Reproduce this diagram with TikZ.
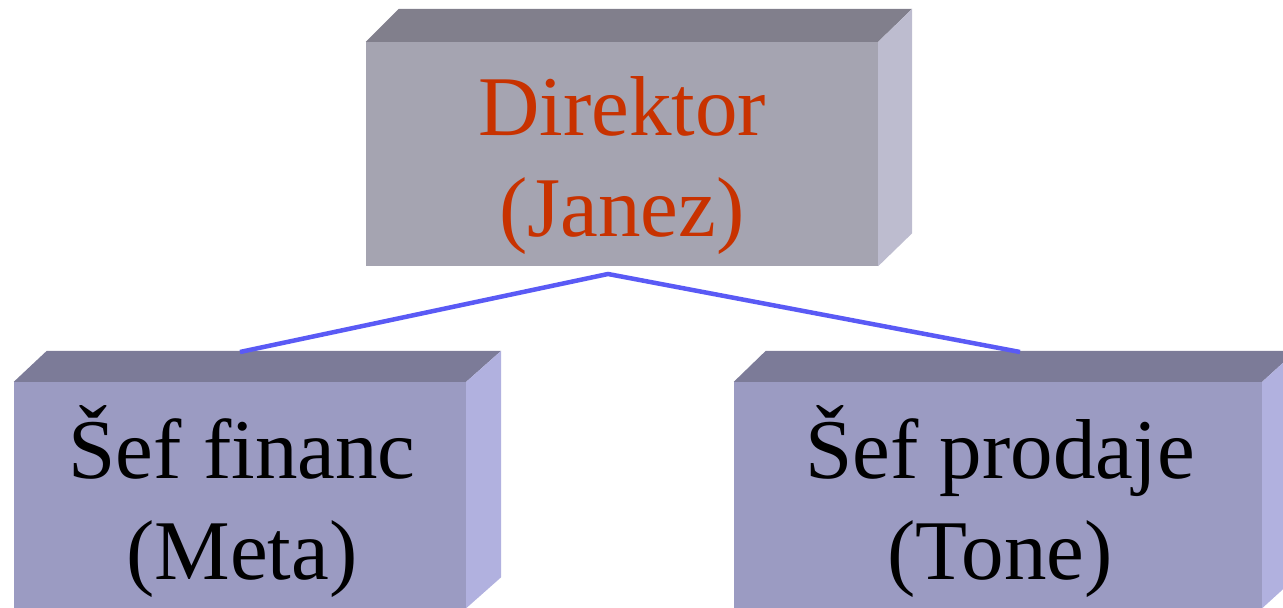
\documentclass[tikz,border=0pt]{standalone}
\usepackage{fontspec}
\setmainfont{Liberation Serif}
\usetikzlibrary{calc}
\definecolor{topfront}{HTML}{A5A4B1}
\definecolor{toptop}{HTML}{817F8C}
\definecolor{topside}{HTML}{BDBCCF}
\definecolor{subfront}{HTML}{9B9BC2}
\definecolor{subtop}{HTML}{7C7B98}
\definecolor{subside}{HTML}{B1B1DF}
\definecolor{linkblue}{HTML}{5A5AF5}
\definecolor{bossred}{HTML}{C83200}
\tikzset{
  face/.style={draw=none, inner sep=0pt, minimum width=#1},
  boxtext/.style={inner sep=0pt, align=center, anchor=base,
    font=\fontsize{85}{101}\selectfont},
  link/.style={draw=linkblue, line width=4.5pt}
}
\begin{document}
\begin{tikzpicture}[x=1pt, y=1pt]
\useasboundingbox (0,0) rectangle (1283,608);
\clip (0,0) rectangle (1283,608);
% top box
\node[face=512pt, minimum height=224pt, fill=topfront] (dir) at (622,454) {};
\fill[toptop] (dir.north west) -- ++(33,33) -- ($(dir.north east)+(34,33)$) -- (dir.north east) -- cycle;
\fill[topside] (dir.north east) -- ++(34,33) -- ($(dir.south east)+(34,33)$) -- (dir.south east) -- cycle;
% left box
\node[face=452pt, minimum height=226pt, fill=subfront] (fin) at (240,113) {};
\fill[subtop] (fin.north west) -- ++(33,31) -- ($(fin.north east)+(35,31)$) -- (fin.north east) -- cycle;
\fill[subside] (fin.north east) -- ++(35,31) -- ($(fin.south east)+(35,31)$) -- (fin.south east) -- cycle;
% right box
\node[face=528pt, minimum height=226pt, fill=subfront] (pro) at (998,113) {};
\fill[subtop] (pro.north west) -- ++(32,31) -- ($(pro.north east)+(34,31)$) -- (pro.north east) -- cycle;
\fill[subside] (pro.north east) -- ++(34,31) -- ($(pro.south east)+(34,31)$) -- (pro.south east) -- cycle;
% texts
\node[boxtext, text=bossred] (dirtxt) at (622,371) {Direktor\\(Janez)};
\node[boxtext] (fintxt) at (242,28) {Šef financ\\(Meta)};
\node[boxtext] (protxt) at (1000,28) {Šef prodaje\\(Tone)};
% connectors
\coordinate (apex) at (608,334);
\coordinate (finend) at (240,256);
\coordinate (proend) at (1020,256);
\draw[link] (finend) -- (apex) -- (proend);
\end{tikzpicture}
\end{document}
